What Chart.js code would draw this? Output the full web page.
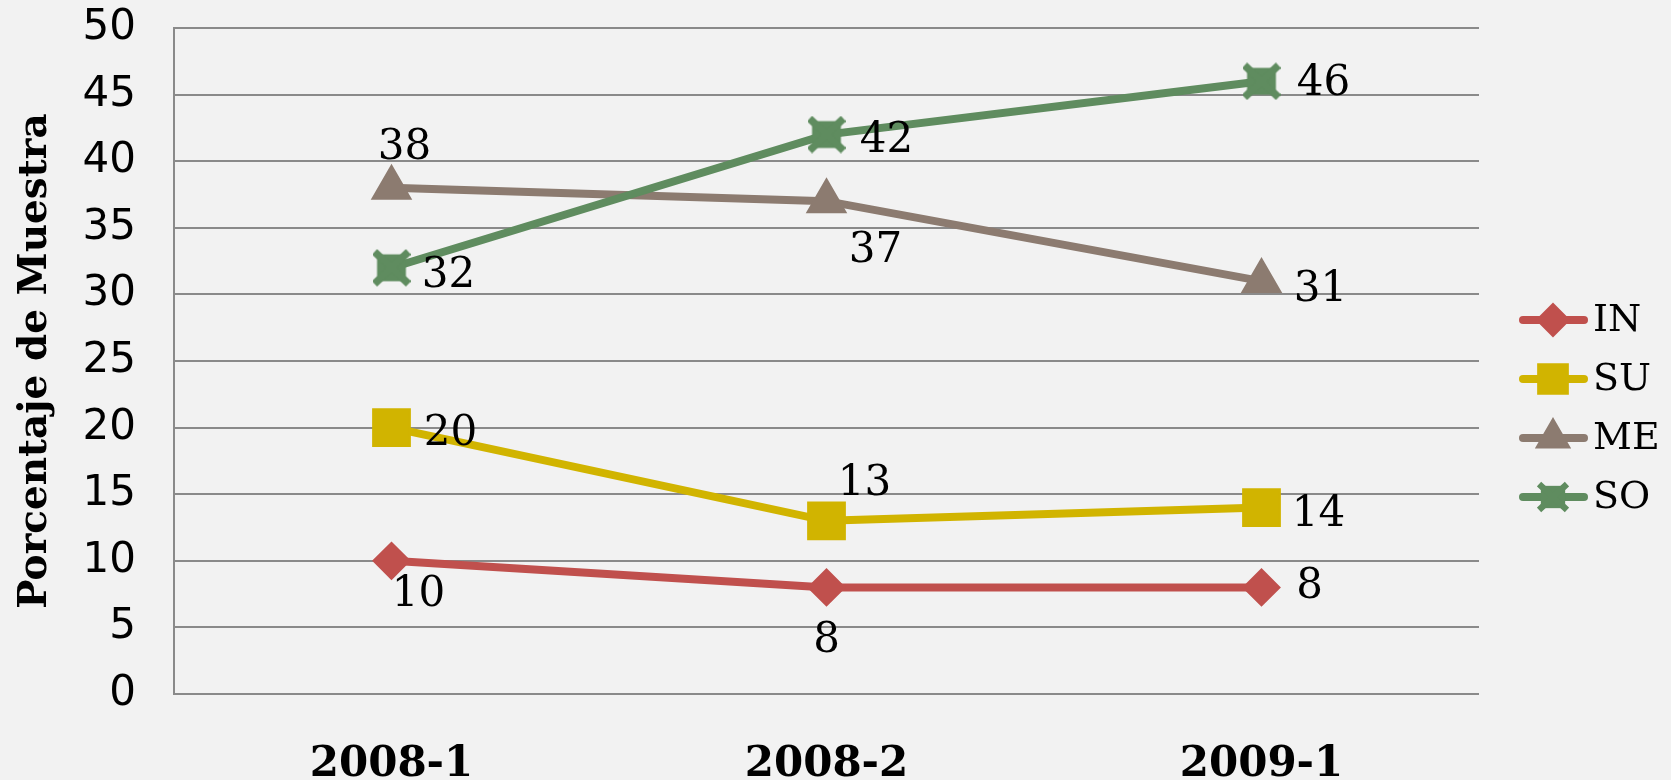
<!DOCTYPE html>
<html lang="es">
<head>
<meta charset="UTF-8">
<title>Porcentaje de Muestra</title>
<script src="https://cdn.jsdelivr.net/npm/chart.js@4.4.1/dist/chart.umd.min.js"></script>
<style>
  html, body { margin: 0; padding: 0; background: #f2f2f2; }
  #wrap { width: 1671px; height: 780px; }
</style>
</head>
<body>
<div id="wrap"><canvas id="chart" width="1671" height="780"></canvas></div>
<script>
// data
const periods = ['2008-1', '2008-2', '2009-1'];
const seriesNames = ['IN', 'SU', 'ME', 'SO'];
const valIN = [10, 8, 8];
const valSU = [20, 13, 14];
const valME = [38, 37, 31];
const valSO = [32, 42, 46];
const yTicks = [0, 5, 10, 15, 20, 25, 30, 35, 40, 45, 50];

const colors = ['#c0504d', '#d1b400', '#8c7b70', '#5f8c5f'];

// little square with pointy corners, used for SO
function soMarker(size) {
  const c = document.createElement('canvas');
  c.width = size; c.height = size;
  const g = c.getContext('2d');
  const m = size * 0.12;
  g.fillStyle = colors[3];
  g.fillRect(m, m + 1, size - 2 * m, size - 2 * m - 2);
  g.strokeStyle = colors[3];
  g.lineWidth = size * 0.2;
  g.beginPath();
  g.moveTo(2, 3); g.lineTo(size - 2, size - 3);
  g.moveTo(size - 2, 3); g.lineTo(2, size - 3);
  g.stroke();
  return c;
}
const soBig = soMarker(38);
const soSmall = soMarker(32);

// label offsets (text centre relative to point)
const labelOffsets = [
  [[27, 34], [0, 54], [48, 0]],
  [[59, 6], [38, -37], [57, 8]],
  [[13, -40], [49, 50], [59, 9]],
  [[57, 8], [60, 7], [62, 3]]
];

function mk(i, data, style, r) {
  return {
    label: seriesNames[i],
    data: data,
    borderColor: colors[i],
    backgroundColor: colors[i],
    borderWidth: 8,
    pointStyle: style,
    pointRadius: r,
    pointHoverRadius: r,
    pointBorderWidth: 2,
    pointBorderColor: colors[i],
    pointBackgroundColor: colors[i],
    tension: 0,
    order: 4 - i
  };
}

const datasets = [
  mk(0, valIN, 'rectRot', 18),
  mk(1, valSU, 'rect', 26),
  mk(2, valME, 'triangle', 22),
  mk(3, valSO, soBig, 19)
];

const valueLabels = {
  id: 'valueLabels',
  afterDatasetsDraw(chart) {
    const ctx = chart.ctx;
    ctx.save();
    ctx.font = '42px "DejaVu Serif"';
    ctx.fillStyle = '#000';
    ctx.textAlign = 'center';
    ctx.textBaseline = 'middle';
    chart.data.datasets.forEach((ds, i) => {
      chart.getDatasetMeta(i).data.forEach((pt, j) => {
        const off = labelOffsets[i][j];
        ctx.fillText(String(ds.data[j]), pt.x + off[0], pt.y + off[1]);
      });
    });
    ctx.restore();
  }
};

const sideLegend = {
  id: 'sideLegend',
  afterDraw(chart) {
    const ctx = chart.ctx;
    const styles = ['rectRot', 'rect', 'triangle', soSmall];
    const radii = [16, 21, 19, 16];
    ctx.save();
    chart.data.datasets.forEach((ds, i) => {
      const y = 320 + i * 59;
      ctx.strokeStyle = colors[i];
      ctx.fillStyle = colors[i];
      ctx.lineWidth = 8;
      ctx.lineCap = 'round';
      ctx.beginPath();
      ctx.moveTo(1523, y); ctx.lineTo(1584, y);
      ctx.stroke();
      ctx.lineWidth = 2;
      Chart.helpers.drawPoint(ctx, { pointStyle: styles[i], radius: radii[i], rotation: 0, borderWidth: 2 }, 1553, y);
      ctx.fillStyle = '#000';
      ctx.font = '38px "DejaVu Serif"';
      ctx.textAlign = 'left';
      ctx.textBaseline = 'middle';
      ctx.fillText(ds.label, 1593, y + 1);
    });
    ctx.restore();
  }
};

Chart.defaults.font.family = '"DejaVu Sans"';
Chart.defaults.color = '#000';

new Chart(document.getElementById('chart'), {
  type: 'line',
  data: { labels: periods, datasets: datasets },
  options: {
    responsive: false,
    animation: false,
    layout: { padding: { left: 12, right: 192, top: 0, bottom: 0 } },
    plugins: {
      legend: { display: false },
      tooltip: { enabled: false }
    },
    scales: {
      x: {
        offset: true,
        grid: { display: false },
        border: { display: false },
        ticks: {
          padding: 38,
          font: { family: '"DejaVu Serif"', size: 42, weight: 'bold' }
        },
        afterFit(scale) { scale.height = 86; }
      },
      y: {
        min: 0,
        max: 50,
        afterBuildTicks(scale) { scale.ticks = yTicks.map(v => ({ value: v })); },
        // invisible tick marks keep the labels away from the axis
        grid: { color: '#8a8a8a', lineWidth: 2, drawTicks: true, tickLength: 38, tickColor: 'rgba(0,0,0,0)' },
        border: { display: true, color: '#8a8a8a', width: 2 },
        ticks: {
          padding: 0,
          font: { size: 42 }
        },
        title: {
          display: true,
          text: 'Porcentaje de Muestra',
          padding: 0,
          font: { family: '"DejaVu Serif"', size: 39, weight: 'bold' }
        },
        afterFit(scale) { scale.width = 162; }
      }
    }
  },
  plugins: [valueLabels, sideLegend]
});
</script>
</body>
</html>
